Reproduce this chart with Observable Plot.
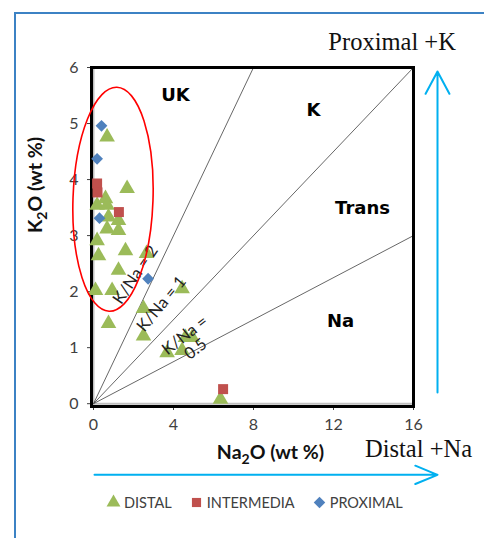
<!DOCTYPE html>
<html><head><meta charset="utf-8">
<script src="https://cdn.jsdelivr.net/npm/d3@7"></script>
<script src="https://cdn.jsdelivr.net/npm/@observablehq/plot@0.6"></script>
<style>
body{margin:0;background:#fff}
#wrap{position:relative;width:484px;height:538px;overflow:hidden;background:#fff}
#border{position:absolute;left:14px;top:12px;right:-5px;bottom:-5px;border-left:2px solid #3C82C4;border-top:2px solid #3C82C4;pointer-events:none}
#chart{position:absolute;left:0;top:0}
#legend{position:absolute;left:106px;top:486px}
.lg-swatch{margin-right:17px !important}
.lg-swatch > svg{margin-right:3px !important}
</style></head>
<body><div id="wrap"><div id="chart"></div><div id="legend"></div><div id="border"></div></div>
<script>
// ---- data ----
const groups = ["DISTAL", "INTERMEDIA", "PROXIMAL"];
const groupColors = ["#9BBB59", "#C0504D", "#4F81BD"];
const groupSymbols = ["triangle", "square", "diamond2"];

const distalNa = [0.68, 1.68, 0.6, 0.18, 0.68, 0.75, 1.25, 0.68, 1.25, 0.18, 0.25, 1.6, 2.65, 1.25, 0.1, 0.93, 4.43, 2.5, 0.75, 2.5, 4.6, 4.93, 3.68, 4.43, 6.35];
const distalK  = [4.76, 3.84, 3.66, 3.54, 3.54, 3.33, 3.27, 3.12, 3.09, 2.91, 2.64, 2.73, 2.68, 2.38, 2.02, 2.02, 2.05, 1.70, 1.43, 1.21, 1.18, 1.18, 0.91, 0.95, 0.08];
const intermediaNa = [0.18, 0.2, 1.27, 6.48];
const intermediaK  = [3.93, 3.77, 3.42, 0.26];
const proximalNa = [0.4, 0.18, 0.3, 2.73];
const proximalK  = [4.96, 4.37, 3.31, 2.23];

const xTicks = [0, 4, 8, 12, 16];
const yTicks = [0, 1, 2, 3, 4, 5, 6];
const ratioLabels = ["K/Na = 2", "K/Na = 1", "K/Na =\n0.5"];
const ratioSlopes = [0.75, 0.375, 0.1875];
const regionLabels = ["UK", "K", "Trans", "Na"];

// ---- tables ----
const toRows = (g, na, k) => na.map((v, i) => ({group: g, na: v, k: k[i]}));
const distal = toRows(groups[0], distalNa, distalK);
const intermedia = toRows(groups[1], intermediaNa, intermediaK);
const proximal = toRows(groups[2], proximalNa, proximalK);
const ratioLines = ratioSlopes.map((s, i) => {
  const x2 = Math.min(16, 6 / s);
  return {label: ratioLabels[i], x2, y2: x2 * s};
});

const ellipseMark = (index, scales) => {
  const x = scales.x, y = scales.y;
  const cx = x(1.0), cy = y(3.64);
  const rx = x(2.0) - x(0), ry = y(0) - y(2.0);
  const e = d3.create("svg:ellipse")
    .attr("cx", cx).attr("cy", cy).attr("rx", rx).attr("ry", ry)
    .attr("fill", "none").attr("stroke", "#FF0000").attr("stroke-width", 1.6)
    .attr("transform", `rotate(2 ${cx} ${cy})`);
  return e.node();
};

const plot = Plot.plot({
  width: 484, height: 490,
  marginLeft: 91, marginRight: 71, marginTop: 67, marginBottom: 84,
  style: {background: "transparent", overflow: "visible", fontFamily: "Lato, 'Open Sans', sans-serif", fontSize: "14px", color: "#404040"},
  x: {domain: [-0.1, 16], ticks: xTicks, tickFormat: d => String(d), tickSize: 4, tickPadding: 8, label: null},
  y: {domain: [-0.05, 6], ticks: yTicks, tickFormat: d => String(d), tickSize: 4, tickPadding: 9, label: null},
  color: {domain: groups, range: groupColors},
  symbol: {domain: groups, range: groupSymbols},
  marks: [
    Plot.ruleX([0], {stroke: "#BFBFBF", strokeWidth: 2}),
    Plot.ruleY([0], {stroke: "#BFBFBF", strokeWidth: 2}),
    Plot.link(ratioLines, {x1: 0, y1: 0, x2: "x2", y2: "y2", stroke: "#404040", strokeWidth: 0.8}),
    Plot.frame({stroke: "#000", strokeWidth: 3}),
    Plot.text(regionLabels, {text: d => d, x: [4.1, 11, 13.45, 12.35], y: [5.5, 5.23, 3.48, 1.48],
      fontFamily: "'DejaVu Sans', sans-serif", fontWeight: "bold", fontSize: 18, fill: "#000"}),
    Plot.dot(distal, {x: "na", y: "k", fill: "group", symbol: "group", r: 5.8, stroke: "none"}),
    Plot.dot(intermedia, {x: "na", y: "k", fill: "group", symbol: "group", r: 5.64, stroke: "none"}),
    Plot.dot(proximal, {x: "na", y: "k", fill: "group", symbol: "group", r: 5.3, stroke: "none"}),
    Plot.text([ratioLabels[0]], {text: d => d, x: 2.1, y: 2.3, rotate: -56, fontSize: 16.5, fill: "#222"}),
    Plot.text([ratioLabels[1]], {text: d => d, x: 3.4, y: 1.78, rotate: -50, fontSize: 16.5, fill: "#222"}),
    Plot.text([ratioLabels[2]], {text: d => d, x: 4.83, y: 1.1, rotate: -38, fontSize: 16.5, fill: "#222", lineHeight: 1.05}),
    ellipseMark,
    Plot.text(["Na2O (wt %)"], {text: d => d, frameAnchor: "bottom", dx: 18, dy: 52, fontWeight: "bold", fontSize: 19.5, fill: "#111"}),
    Plot.text(["K2O (wt %)"], {text: d => d, frameAnchor: "left", dx: -56, dy: -4, rotate: -90, fontWeight: "bold", fontSize: 19.5, fill: "#111"}),
    Plot.text(["Proximal +K"], {text: d => d, x: 14.93, y: 6.45, fontFamily: "'Liberation Serif', serif", fontSize: 24.5, fill: "#111"}),
    Plot.text(["Distal +Na"], {text: d => d, x: 16.25, y: -0.82, fontFamily: "'Liberation Serif', serif", fontSize: 24.5, fill: "#111"}),
    Plot.arrow([0], {x1: 0.05, y1: -1.27, x2: 17.2, y2: -1.27, stroke: "#00B0F0", strokeWidth: 2, headLength: 18, headAngle: 45}),
    Plot.arrow([0], {x1: 17.2, y1: 0.2, x2: 17.2, y2: 5.93, stroke: "#00B0F0", strokeWidth: 2, headLength: 19, headAngle: 56})
  ]
});

function subscript(el, pre, sub, post) {
  const s = d3.select(el);
  s.text(null);
  s.append("tspan").text(pre);
  s.append("tspan").attr("dy", 5).attr("font-size", "0.72em").text(sub);
  s.append("tspan").attr("dy", -5).text(post);
}
d3.select(plot).selectAll("text").each(function() {
  const t = this.textContent;
  if (t === "Na2O (wt %)") subscript(this, "Na", "2", "O (wt %)");
  else if (t === "K2O (wt %)") subscript(this, "K", "2", "O (wt %)");
  else if (/^\d+$/.test(t) && this.childElementCount === 0) {
    d3.select(this).attr("font-size", 16).style("font-size", "16px").attr("fill", "#404040");
  }
});

document.getElementById("chart").appendChild(plot);
const leg = plot.legend("symbol", {className: "lg", swatchSize: 15, r: 5.5,
  style: {fontSize: "14.5px", fontFamily: "Lato, 'Open Sans', sans-serif", color: "#404040"}});
if (leg) document.getElementById("legend").appendChild(leg);
</script>
</body></html>
